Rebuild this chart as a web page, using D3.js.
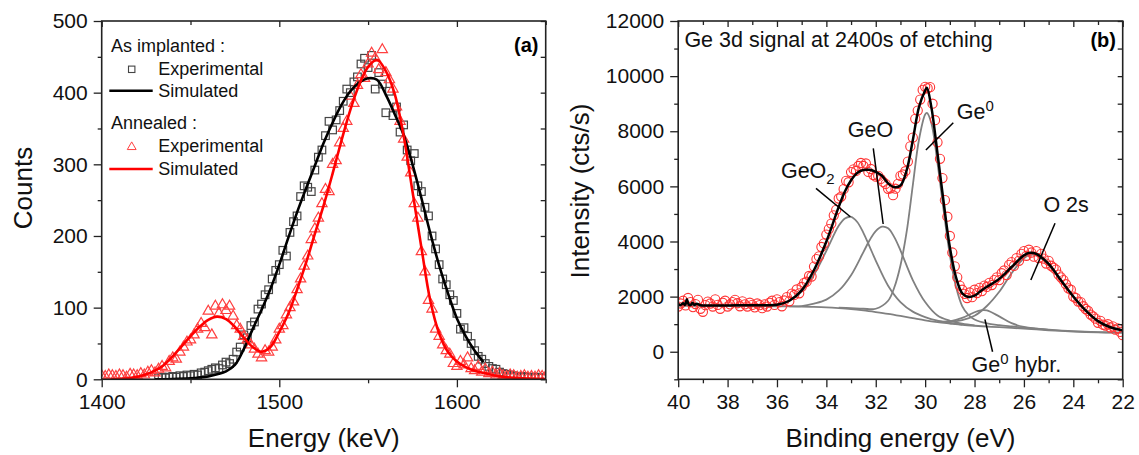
<!DOCTYPE html>
<html>
<head>
<meta charset="utf-8">
<script src="https://cdn.jsdelivr.net/npm/d3@7"></script>
<style>
body { margin: 0; background: #fff; }
svg { display: block; font-family: "Liberation Sans", Arial, sans-serif; }
</style>
</head>
<body>
<svg id="chart" width="1139" height="455"></svg>
<script>
// ---------- panel (a): RBS spectra ----------
var sqE = [1432,1434,1436,1438,1440,1442,1444,1446,1448,1450,
  1452,1454,1456,1458,1460,1462,1464,1466,1468,1470,
  1472,1474,1476,1478,1480,1482,1484,1486,1488,1490,
  1492,1494,1496,1498,1500,1502,1504,1506,1508,1510,
  1512,1514,1516,1518,1520,1522,1524,1526,1528,1530,
  1532,1534,1536,1538,1540,1542,1544,1546,1548,1550,
  1552,1554,1556,1558,1560,1562,1564,1566,1568,1570,
  1572,1574,1576,1578,1580,1582,1584,1586,1588,1590,
  1592,1594,1596,1598,1600,1602,1604,1606,1608,1610,
  1612,1614,1616,1618,1620,1622,1624,1626,1628,1630,
  1632,1634,1636,1638,1640,1642,1644,1646,1648];
var sqCounts = [2,3,2,3,4,3,5,4,6,5,
  7,6,9,10,12,14,16,15,20,24,
  22,28,38,45,62,58,75,80,98,105,
  118,125,140,152,160,180,172,205,220,228,
  255,270,268,262,292,310,320,340,360,348,
  362,375,388,405,400,415,422,440,448,435,
  452,405,428,412,372,402,368,380,345,355,
  320,305,315,270,262,240,228,200,182,160,
  140,132,118,110,92,70,72,60,50,40,
  32,28,22,18,15,14,10,8,7,6,
  5,4,3,4,3,2,3,2,2];

var triE = [1400,1402,1404,1406,1408,1410,1412,1414,1416,1418,
  1420,1422,1424,1426,1428,1430,1432,1434,1436,1438,
  1440,1442,1444,1446,1448,1450,1452,1454,1456,1458,
  1460,1462,1464,1466,1468,1470,1472,1474,1476,1478,
  1480,1482,1484,1486,1488,1490,1492,1494,1496,1498,
  1500,1502,1504,1506,1508,1510,1512,1514,1516,1518,
  1520,1522,1524,1526,1528,1530,1532,1534,1536,1538,
  1540,1542,1544,1546,1548,1550,1552,1554,1556,1558,
  1560,1562,1564,1566,1568,1570,1572,1574,1576,1578,
  1580,1582,1584,1586,1588,1590,1592,1594,1596,1598,
  1600,1602,1604,1606,1608,1610,1612,1614,1616,1618,
  1620,1622,1624,1626,1628,1630,1632,1634,1636,1638,
  1640,1642,1644,1646,1648,1650];
var triCounts = [5,4,6,5,4,6,5,3,7,6,
  5,8,6,10,12,9,14,18,16,25,
  30,28,38,45,52,55,62,70,78,72,
  95,62,102,92,104,96,102,88,75,70,
  60,55,48,42,35,30,40,38,45,55,
  70,75,90,100,108,125,140,158,172,195,
  210,225,245,265,262,300,305,330,350,360,
  395,385,410,425,420,440,455,448,432,460,
  428,418,405,380,360,335,310,288,245,225,
  178,150,110,98,70,60,48,40,35,22,
  18,25,20,30,15,12,18,10,14,8,
  10,6,8,5,4,6,5,3,4,5,
  3,4,3,5,4,4];

var simBlackE = [1430,1440,1450,1455,1460,1465,1470,1475,1480,1485,1490,1495,1500,1505,1510,1515,1520,1525,
  1530,1535,1540,1545,1550,1555,1560,1565,1570,1575,1580,1585,1590,1595,1600,1605,1610,1615];
var simBlackCounts = [0,0.5,1.5,2.5,4,7,11,20,42,70,97,126,160,197,233,266,298,330,
  358,383,402,414,420,418,397,370,341,300,253,204,159,120,85,60,40,24];

var simRedE = [1405,1410,1415,1420,1425,1430,1435,1440,1445,1450,1455,1460,1465,1470,1475,1480,1485,1490,1495,1500,
  1505,1510,1515,1520,1525,1530,1535,1540,1545,1550,1555,1560,1565,1570,1575,1580,1585,1590,1595,1600,
  1605,1610,1615,1620,1625,1630,1640,1650];
var simRedCounts = [0,0.5,1.5,3.5,7,12,20,32,46,60,73,83,87.5,84,73,58,45,38.5,45,66,
  91,125,162,203,243,287,333,376,411,436,446,430,398,340,262,184,110,64,38,25,
  17,12,9,6,4,2.5,1,0.5];

var xTicksA = [1400, 1500, 1600];
var yTicksA = [0, 100, 200, 300, 400, 500];

// ---------- panel (b): XPS Ge 3d ----------
var expBE = [40.0,39.9,39.8,39.7,39.6,39.5,39.4,39.3,39.2,39.1,39.0,38.9,38.8,38.7,38.6,38.5,38.4,38.3,38.2,38.1,
  38.0,37.9,37.8,37.7,37.6,37.5,37.4,37.3,37.2,37.1,37.0,36.9,36.8,36.7,36.6,36.5,36.4,36.3,36.2,36.1,
  36.0,35.9,35.8,35.7,35.6,35.5,35.4,35.3,35.2,35.1,35.0,34.9,34.8,34.7,34.6,34.5,34.4,34.3,34.2,34.1,
  34.0,33.9,33.8,33.7,33.6,33.5,33.4,33.3,33.2,33.1,33.0,32.9,32.8,32.7,32.6,32.5,32.4,32.3,32.2,32.1,
  32.0,31.9,31.8,31.7,31.6,31.5,31.4,31.3,31.2,31.1,31.0,30.9,30.8,30.7,30.6,30.5,30.4,30.3,30.2,30.1,
  30.0,29.9,29.8,29.7,29.6,29.5,29.4,29.3,29.2,29.1,29.0,28.9,28.8,28.7,28.6,28.5,28.4,28.3,28.2,28.1,
  28.0,27.9,27.8,27.7,27.6,27.5,27.4,27.3,27.2,27.1,27.0,26.9,26.8,26.7,26.6,26.5,26.4,26.3,26.2,26.1,
  26.0,25.9,25.8,25.7,25.6,25.5,25.4,25.3,25.2,25.1,25.0,24.9,24.8,24.7,24.6,24.5,24.4,24.3,24.2,24.1,
  24.0,23.9,23.8,23.7,23.6,23.5,23.4,23.3,23.2,23.1,23.0,22.9,22.8,22.7,22.6,22.5,22.4,22.3,22.2,22.1,
  22.0];
var expIntensity = [1640,1750,1850,1680,1950,1800,1620,1730,1880,1560,1450,1690,1820,1750,1640,1900,1700,1560,1780,1850,
  1640,1720,1800,1880,1760,1650,1830,1720,1640,1780,1700,1610,1750,1690,1580,1720,1640,1780,1850,1700,
  1900,1800,1650,1860,1980,1830,2110,2060,2260,2120,2350,2500,2540,2750,2730,3090,3360,3460,3800,3930,
  4250,4450,4650,4950,5150,5560,5630,5900,6200,6150,6520,6620,6560,6740,6850,6740,6830,6525,6630,6410,
  6350,6380,6270,6160,6090,5910,5930,5680,5915,6090,6380,6430,6550,6900,7450,7770,8450,8750,9150,9500,
  9610,9560,9600,9000,8400,7600,7000,6300,5500,4900,4200,3600,3100,2700,2400,2250,2100,1950,2150,1980,
  2250,2130,2320,2200,2400,2350,2500,2420,2600,2700,2600,2850,2950,2780,3150,3250,3120,3400,3300,3550,
  3650,3480,3700,3600,3450,3650,3400,3550,3380,3200,3300,3120,3050,2980,2800,2700,2600,2450,2300,2250,
  2000,1950,1820,1800,1650,1550,1480,1350,1280,1200,1050,1120,980,950,1000,880,920,800,850,720,
  600];

var envBE = [40,39.9,39.8,39.72,39.65,39.58,39.5,39.42,39.35,39.25,39.1,38.8,38,37,36.5,36,35.5,35,34.5,34,
  33.5,33.25,33,32.75,32.5,32.25,32,31.75,31.5,31.25,31,30.75,30.5,30.25,30,29.93,29.75,29.5,29.25,29,
  28.75,28.5,28.25,28,27.75,27.5,27,26.5,26,25.75,25.5,25,24.5,24,23.5,23,22.5,22];
var envIntensity = [1720,1700,1760,1700,1900,1720,1690,1780,1700,1740,1690,1680,1682,1685,1690,1705,1850,2228,2966,3997,
  5257,5814,6222,6488,6591,6601,6527,6384,6107,5971,6031,6577,7674,8877,9480,9580,8884,7198,5421,3793,
  2702,2122,1987,2033,2202,2355,2643,3074,3495,3589,3548,3187,2593,2006,1499,1110,888,775];

var bgBE = [40,39,38,37,36,35.5,35,34.5,34,33.5,33,32.5,32,31.5,31,30.5,30,29.5,29,28.5,28,27.5,27,26.5,26,25.5,25,24.5,24,23.5,23,22.5,22];
var bgIntensity = [1665,1665,1662,1658,1650,1645,1638,1628,1612,1585,1550,1500,1440,1375,1300,1220,1140,1075,1025,978,943,915,890,865,838,808,780,755,733,716,704,695,690];

var geo2BE = [36.5,36,35.5,35,34.5,34,33.5,33.25,33,32.75,32.5,32.25,32,31.5,31,30.5,30,29.5,29,28.5];
var geo2Intensity = [1654,1680,1845,2178,2801,3662,4567,4834,4893,4708,4314,3815,3309,2397,1803,1455,1257,1125,1045,986];

var geoBE = [35.5,35,34.5,34,33.5,33,32.5,32.25,32,31.75,31.5,31.25,31,30.5,30,29.5,29,28.5,28];
var geoIntensity = [1648,1658,1748,1892,2215,2779,3617,4044,4379,4536,4478,4157,3678,2600,1802,1315,1125,1018,958];

var ge0BE = [33.5,33,32.5,32,31.5,31.25,31,30.75,30.5,30.25,30,29.93,29.75,29.5,29.25,29,28.75,28.5,28.25,28,27.5,27,26.5,26,25,24,23,22];
var ge0Intensity = [1600,1580,1560,1560,1850,2330,3130,4347,6039,7693,8610,8665,8298,6843,5116,3510,2355,1656,1337,1169,1028,965,920,878,805,748,714,695];

var hybBE = [29.5,29,28.5,28,27.75,27.5,27,26.5,26,25.5,25];
var hybIntensity = [1090,1100,1226,1432,1502,1498,1283,1036,899,835,795];

var o2sBE = [29.5,29,28.5,28,27.5,27,26.5,26,25.75,25.5,25,24.5,24,23.5,23,22.5,22];
var o2sIntensity = [1105,1095,1148,1303,1659,2175,2848,3394,3514,3491,3147,2573,1991,1487,1100,880,770];

var xTicksB = [40, 38, 36, 34, 32, 30, 28, 26, 24, 22];
var yTicksB = [0, 2000, 4000, 6000, 8000, 10000, 12000];

// ---------- drawing ----------
var svg = d3.select('#chart');

var xA = d3.scaleLinear().domain([1400, 1650]).range([101.7, 545.7]);
var yA = d3.scaleLinear().domain([0, 500]).range([379.3, 21]);
var xB = d3.scaleLinear().domain([40, 22]).range([678.2, 1122.7]);
var yB = d3.scaleLinear().domain([-1000, 12000]).range([379.3, 21]);

function zip(xs, ys) {
   return xs.map(function(d, i) { return [d, ys[i]]; });
}

function drawFrame(x, y, xMajor, xMinor, yMajor, yMinor) {
   var g = svg.append('g');
   var x0 = x.range()[0], x1 = x.range()[1], y0 = y.range()[0], y1 = y.range()[1];

   function tidy(sel) {
      sel.select('.domain').remove();
      sel.selectAll('line').attr('stroke', '#222').attr('stroke-width', 1.3);
      sel.selectAll('text').attr('fill', '#111').style('font-size', '21px')
         .style('font-family', '"Liberation Sans", Arial, sans-serif');
   }

   g.append('g').attr('transform', 'translate(0,' + y0 + ')')
      .call(d3.axisBottom(x).tickValues(xMajor).tickSize(8).tickPadding(7).tickFormat(d3.format('d'))).call(tidy);
   g.append('g').attr('transform', 'translate(0,' + y0 + ')')
      .call(d3.axisBottom(x).tickValues(xMinor).tickSize(4).tickFormat('')).call(tidy);
   g.append('g').attr('transform', 'translate(0,' + y1 + ')')
      .call(d3.axisTop(x).tickValues(xMajor).tickSize(-6).tickFormat('')).call(tidy);
   g.append('g').attr('transform', 'translate(0,' + y1 + ')')
      .call(d3.axisTop(x).tickValues(xMinor).tickSize(-4).tickFormat('')).call(tidy);

   g.append('g').attr('transform', 'translate(' + x0 + ',0)')
      .call(d3.axisLeft(y).tickValues(yMajor).tickSize(8).tickPadding(6).tickFormat(d3.format('d'))).call(tidy);
   g.append('g').attr('transform', 'translate(' + x0 + ',0)')
      .call(d3.axisLeft(y).tickValues(yMinor).tickSize(4).tickFormat('')).call(tidy);
   g.append('g').attr('transform', 'translate(' + x1 + ',0)')
      .call(d3.axisRight(y).tickValues(yMajor.concat(yMinor)).tickSize(-5).tickFormat('')).call(tidy);

   g.append('rect')
      .attr('x', x0).attr('y', y1)
      .attr('width', x1 - x0).attr('height', y0 - y1)
      .attr('fill', 'none').attr('stroke', '#222').attr('stroke-width', 1.6);
}

function clip(id, x, y) {
   svg.append('clipPath').attr('id', id).append('rect')
      .attr('x', x.range()[0]).attr('y', y.range()[1])
      .attr('width', x.range()[1] - x.range()[0])
      .attr('height', y.range()[0] - y.range()[1]);
}

clip('clipA', xA, yA);
clip('clipB', xB, yB);

// ----- panel (a) -----
var gA = svg.append('g').attr('clip-path', 'url(#clipA)');
var lineA = d3.line().x(function(d) { return xA(d[0]); }).y(function(d) { return yA(d[1]); })
   .curve(d3.curveCatmullRom.alpha(0.5));

gA.selectAll('rect.sq').data(zip(sqE, sqCounts)).enter().append('rect')
   .attr('x', function(d) { return xA(d[0]) - 3.8; })
   .attr('y', function(d) { return yA(d[1]) - 3.8; })
   .attr('width', 7.6).attr('height', 7.6)
   .attr('fill', 'none').attr('stroke', '#444').attr('stroke-width', 1.2);

var tri = d3.symbol().type(d3.symbolTriangle).size(46);
gA.selectAll('path.tri').data(zip(triE, triCounts)).enter().append('path')
   .attr('d', tri)
   .attr('transform', function(d) { return 'translate(' + xA(d[0]) + ',' + yA(d[1]) + ')'; })
   .attr('fill', 'none').attr('stroke', '#ff4040').attr('stroke-width', 1.2);

gA.append('path').datum(zip(simBlackE, simBlackCounts))
   .attr('d', lineA).attr('fill', 'none').attr('stroke', '#000').attr('stroke-width', 2.6);
gA.append('path').datum(zip(simRedE, simRedCounts))
   .attr('d', lineA).attr('fill', 'none').attr('stroke', '#ff0000').attr('stroke-width', 2.6);

drawFrame(xA, yA, xTicksA, [1450, 1550, 1650], yTicksA, [50, 150, 250, 350, 450]);

// legend (a)
var leg = svg.append('g').style('font-size', '18px').attr('fill', '#111');
leg.append('text').attr('x', 111).attr('y', 51.7).text('As implanted :');
leg.append('rect').attr('x', 128.5).attr('y', 66.1).attr('width', 6.4).attr('height', 6.4)
   .attr('fill', 'none').attr('stroke', '#444').attr('stroke-width', 1.1);
leg.append('text').attr('x', 158.3).attr('y', 75).text('Experimental');
leg.append('line').attr('x1', 109.3).attr('x2', 152.7).attr('y1', 90.7).attr('y2', 90.7)
   .attr('stroke', '#000').attr('stroke-width', 2.6);
leg.append('text').attr('x', 158.3).attr('y', 96.7).text('Simulated');
leg.append('text').attr('x', 111).attr('y', 129.3).text('Annealed :');
leg.append('path').attr('d', d3.symbol().type(d3.symbolTriangle).size(34))
   .attr('transform', 'translate(131.7,147)')
   .attr('fill', 'none').attr('stroke', '#ff4040').attr('stroke-width', 1);
leg.append('text').attr('x', 158.3).attr('y', 152.3).text('Experimental');
leg.append('line').attr('x1', 109.3).attr('x2', 152.7).attr('y1', 169).attr('y2', 169)
   .attr('stroke', '#ff0000').attr('stroke-width', 2.6);
leg.append('text').attr('x', 158.3).attr('y', 175).text('Simulated');

svg.append('text').attr('x', 538.5).attr('y', 51.7).attr('text-anchor', 'end')
   .style('font-size', '20px').style('font-weight', 'bold').text('(a)');

svg.append('text').attr('x', 323.7).attr('y', 447).attr('text-anchor', 'middle')
   .style('font-size', '26px').attr('fill', '#111').text('Energy (keV)');
svg.append('text').attr('transform', 'translate(32,188) rotate(-90)').attr('text-anchor', 'middle')
   .style('font-size', '26px').attr('fill', '#111').text('Counts');

// ----- panel (b) -----
var gB = svg.append('g').attr('clip-path', 'url(#clipB)');
var lineB = d3.line().x(function(d) { return xB(d[0]); }).y(function(d) { return yB(d[1]); })
   .curve(d3.curveCatmullRom.alpha(0.5));

[[bgBE, bgIntensity], [geo2BE, geo2Intensity], [geoBE, geoIntensity], [ge0BE, ge0Intensity],
 [hybBE, hybIntensity], [o2sBE, o2sIntensity]].forEach(function(c) {
   gB.append('path').datum(zip(c[0], c[1]))
      .attr('d', lineB).attr('fill', 'none').attr('stroke', '#808080').attr('stroke-width', 1.8);
});

gB.selectAll('circle').data(zip(expBE, expIntensity)).enter().append('circle')
   .attr('cx', function(d) { return xB(d[0]); })
   .attr('cy', function(d) { return yB(d[1]); })
   .attr('r', 4.6)
   .attr('fill', 'none').attr('stroke', '#ff3333').attr('stroke-width', 1.1);

gB.append('path').datum(zip(envBE, envIntensity))
   .attr('d', lineB).attr('fill', 'none').attr('stroke', '#000').attr('stroke-width', 2.5);

drawFrame(xB, yB, xTicksB, [39, 37, 35, 33, 31, 29, 27, 25, 23], yTicksB,
   [-1000, 1000, 3000, 5000, 7000, 9000, 11000]);

// peak labels, anchored in data units
var notes = [
   { x: 35.84, y: 6292, parts: [['GeO', 0], ['2', 6]], from: [34.42, 5929], to: [33.03, 4899] },
   { x: 33.13, y: 7802, parts: [['GeO', 0]], from: [32.10, 7381], to: [31.70, 4634] },
   { x: 28.72, y: 8433, parts: [['Ge', 0], ['0', -8]], from: [28.86, 8310], to: [29.97, 7319] },
   { x: 25.21, y: 5081, parts: [['O 2s', 0]], from: [24.74, 4660], to: [25.72, 2603] },
   { x: 28.12, y: -742, parts: [['Ge', 0], ['0', -8], [' hybr.', 0]], from: [27.58, 1177], to: [27.27, 1] }
];

notes.forEach(function(n) {
   svg.append('line')
      .attr('x1', xB(n.from[0])).attr('y1', yB(n.from[1]))
      .attr('x2', xB(n.to[0])).attr('y2', yB(n.to[1]))
      .attr('stroke', '#000').attr('stroke-width', 1.5);
   var t = svg.append('text').attr('x', xB(n.x)).attr('y', yB(n.y))
      .style('font-size', '21.5px').attr('fill', '#111');
   var prev = 0;
   n.parts.forEach(function(p) {
      t.append('tspan').attr('dy', p[1] - prev)
         .style('font-size', p[1] === 0 ? '21.5px' : '15px').text(p[0]);
      prev = p[1];
   });
});

svg.append('text').attr('x', 684.4).attr('y', 46.7)
   .style('font-size', '21.5px').attr('fill', '#111').text('Ge 3d signal at 2400s of etching');
svg.append('text').attr('x', 1116).attr('y', 46.7).attr('text-anchor', 'end')
   .style('font-size', '20px').style('font-weight', 'bold').text('(b)');

svg.append('text').attr('x', 900.5).attr('y', 447).attr('text-anchor', 'middle')
   .style('font-size', '26px').attr('fill', '#111').text('Binding energy (eV)');
svg.append('text').attr('transform', 'translate(588.5,191) rotate(-90)').attr('text-anchor', 'middle')
   .style('font-size', '26px').attr('fill', '#111').text('Intensity (cts/s)');
</script>
</body>
</html>
